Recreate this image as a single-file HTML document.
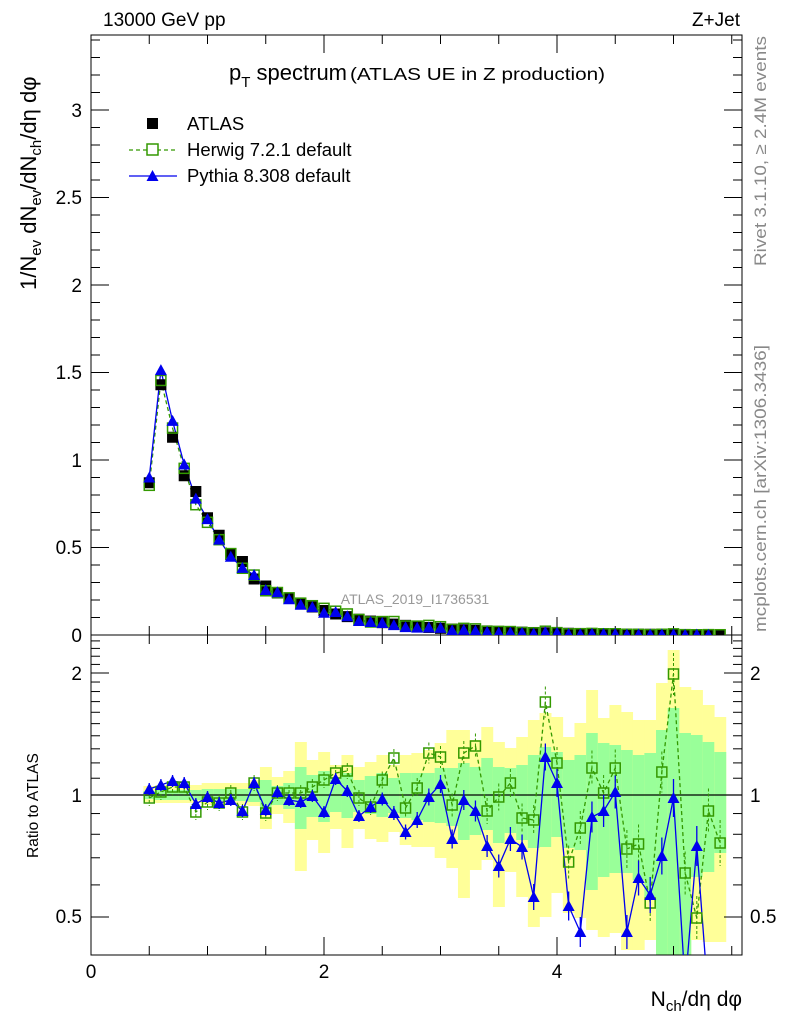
<!DOCTYPE html>
<html><head><meta charset="utf-8"><style>
html,body{margin:0;padding:0;background:#fff;}
svg{display:block;font-family:"Liberation Sans",sans-serif;}
</style></head><body>
<svg id="s" width="786" height="1024" viewBox="0 0 786 1024" xmlns="http://www.w3.org/2000/svg">
<g id="bands"></g>
<g id="ticks" stroke="#000" stroke-width="1"></g>
<rect x="91" y="35" width="651" height="600" fill="none" stroke="#000" stroke-width="1"/>
<rect x="91" y="635" width="651" height="320" fill="none" stroke="#000" stroke-width="1"/>
<line x1="91" y1="795" x2="742" y2="795" stroke="#000" stroke-width="1.3"/>
<g id="data"></g>
<text x="103" y="26" font-size="19">13000 GeV pp</text>
<text x="740" y="26" font-size="19" text-anchor="end">Z+Jet</text>
<text x="229" y="80" font-size="22">p<tspan font-size="15" dy="7">T</tspan><tspan dy="-7"> spectrum</tspan><tspan font-size="17.5" dx="3" textLength="255" lengthAdjust="spacingAndGlyphs">(ATLAS UE in Z production)</tspan></text>
<rect x="147" y="118" width="11" height="11" fill="#000"/>
<text x="187" y="130" font-size="18.5">ATLAS</text>
<line x1="129" y1="150" x2="175" y2="150" stroke="#339900" stroke-width="1.3" stroke-dasharray="4,3"/>
<rect x="147" y="144" width="11" height="11" fill="#fff" stroke="#339900" stroke-width="1.5"/>
<text x="187" y="156" font-size="18.5">Herwig 7.2.1 default</text>
<line x1="129" y1="176" x2="177" y2="176" stroke="#0000ee" stroke-width="1.3"/>
<polygon points="152.5,170 146.5,181 158.5,181" fill="#0000ee"/>
<text x="187" y="182" font-size="18.5">Pythia 8.308 default</text>
<text x="415" y="604" font-size="14" fill="#999" text-anchor="middle">ATLAS_2019_I1736531</text>
<text transform="translate(36,290) rotate(-90)" font-size="22">1/N<tspan font-size="15" dy="5">ev</tspan><tspan dy="-5"> dN</tspan><tspan font-size="15" dy="5">ev</tspan><tspan dy="-5">/dN</tspan><tspan font-size="15" dy="5">ch</tspan><tspan dy="-5">/dη dφ</tspan></text>
<text transform="translate(38,858) rotate(-90)" font-size="15.5">Ratio to ATLAS</text>
<text transform="translate(766,266) rotate(-90)" font-size="17" fill="#888" textLength="230" lengthAdjust="spacingAndGlyphs">Rivet 3.1.10, ≥ 2.4M events</text>
<text transform="translate(766,632) rotate(-90)" font-size="17" fill="#888" textLength="287" lengthAdjust="spacingAndGlyphs">mcplots.cern.ch [arXiv:1306.3436]</text>
<text x="742" y="1006" font-size="21" text-anchor="end">N<tspan font-size="15" dy="5">ch</tspan><tspan dy="-5">/dη dφ</tspan></text>
<g font-size="19">
<text x="91" y="978" text-anchor="middle">0</text>
<text x="324" y="978" text-anchor="middle">2</text>
<text x="557" y="978" text-anchor="middle">4</text>
<text x="82" y="642" text-anchor="end">0</text>
<text x="82" y="554" text-anchor="end">0.5</text>
<text x="82" y="467" text-anchor="end">1</text>
<text x="82" y="379" text-anchor="end">1.5</text>
<text x="82" y="292" text-anchor="end">2</text>
<text x="82" y="204" text-anchor="end">2.5</text>
<text x="82" y="117" text-anchor="end">3</text>
<text x="82" y="802" text-anchor="end">1</text>
<text x="82" y="680" text-anchor="end">2</text>
<text x="82" y="923" text-anchor="end">0.5</text>
<text x="750" y="802">1</text>
<text x="750" y="680">2</text>
<text x="750" y="923">0.5</text>
</g>
</svg>
<script>
var NS="http://www.w3.org/2000/svg";
function el(p,t,a){var e=document.createElementNS(NS,t);for(var k in a)e.setAttribute(k,a[k]);p.appendChild(e);return e;}
var T=document.getElementById('ticks'),B=document.getElementById('bands'),D=document.getElementById('data');
function X(v){return 91+116.5*v;}
for(var i=0;i<=11;i++){var x=X(i*0.5);if(x>742)break;var L=(i%4==0)?18:9;
 el(T,'line',{x1:x,y1:635,x2:x,y2:635-L});el(T,'line',{x1:x,y1:35,x2:x,y2:35+L});
 el(T,'line',{x1:x,y1:955,x2:x,y2:955-L});el(T,'line',{x1:x,y1:635,x2:x,y2:635+L});}
for(var i=0;i<=34;i++){var y=635-i*0.1*175;var L=(i%5==0)?18:9;
 el(T,'line',{x1:91,y1:y,x2:91+L,y2:y});el(T,'line',{x1:742,y1:y,x2:742-L,y2:y});}
function RY(r){return 795-122*Math.log(r)/Math.LN2;}
var rt=[0.5,0.6,0.7,0.8,0.9,1,1.1,1.2,1.3,1.4,1.5,1.6,1.7,1.8,1.9,2,2.1,2.2,2.3,2.4];
rt.forEach(function(r){var y=RY(r);if(y<635||y>955)return;var L=(r==0.5||r==1||r==2)?18:9;
 el(T,'line',{x1:91,y1:y,x2:91+L,y2:y});el(T,'line',{x1:742,y1:y,x2:742-L,y2:y});});
var bd=[[786,802,791,799],[785,803,790,800],[785,803,790,800],[785,803,790,800],[785,803,790,800],
[783,805,789,801],[783,805,789,801],[783,805,789,801],[783,805,789,801],[780,806,788,802],
[767,829,780,812],[777,814,786,805],[771,823,783,809],[742,871,767,829],[760,840,775,817],
[752,853,771,822],[765,829,778,812],[755,848,773,818],[767,829,780,812],[762,839,776,814],
[755,842,773,817],[765,832,778,813],[755,845,773,818],[753,847,773,820],[750,847,773,822],
[743,858,768,823],[730,868,768,826],[730,898,763,840],[740,870,767,835],[727,860,758,830],
[742,907,767,843],[748,872,768,833],[737,897,765,840],[720,927,755,848],[713,917,747,847],
[717,893,752,837],[737,913,760,848],[723,918,755,850],[690,930,733,890],[718,937,743,877],
[705,933,745,873],[712,950,750,873],[720,950,755,880],[720,940,753,897],[683,953,730,957],
[650,955,708,955],[687,955,733,955],[690,940,735,877],[705,942,742,872],[717,942,752,853]];
var hw=[798,792,787,787,812,802,803,793,812,783,813,793,793,793,787,780,773,771,798,807,780,758,808,788,753,757,805,753,746,811,797,783,818,820,702,763,862,828,768,793,768,849,844,903,772,674,873,918,811,843];
var py=[789,785,781,783,804,797,803,800,811,783,810,792,800,802,796,812,779,791,816,807,799,813,832,820,797,784,839,800,811,846,866,839,847,897,757,783,906,932,817,811,792,932,878,895,856,798,985,846,1000,null];
var W=11.65;
function PX(i){return 149.25+W*i;}
bd.forEach(function(b,i){var x=PX(i)-W/2;
 el(B,'rect',{x:x,y:b[0],width:W+0.3,height:Math.min(b[1],955)-b[0],fill:'#ffff99'});
 el(B,'rect',{x:x,y:b[2],width:W+0.3,height:Math.min(b[3],955)-b[2],fill:'#99ff99'});});
var atl=[0.87,1.43,1.13,0.91,0.82,0.67,0.57,0.46,0.42,0.32,0.28,0.24,0.21,0.18,0.16,0.14,0.12,0.105,0.09];
while(atl.length<50){atl.push(atl[atl.length-1]*0.885);}
function MY(v){return 635-175*v;}
function rat(y){return Math.pow(2,(795-y)/122);}
var clip=el(D,'clipPath',{id:'cr'});el(clip,'rect',{x:91,y:635,width:651,height:320});
var clip2=el(D,'clipPath',{id:'cm'});el(clip2,'rect',{x:91,y:35,width:651,height:600});
var gm=el(D,'g',{'clip-path':'url(#cm)'}),gr=el(D,'g',{'clip-path':'url(#cr)'});
function poly(g,pts,col,dash){var a={points:pts.join(' '),fill:'none',stroke:col,'stroke-width':1.3};if(dash)a['stroke-dasharray']='4,3';el(g,'polyline',a);}
var hm=[],pm=[],hr=[],pr=[];
for(var i=0;i<50;i++){var x=PX(i);
 hm.push(x+','+MY(atl[i]*rat(hw[i])));hr.push(x+','+hw[i]);
 if(py[i]!=null){pm.push(x+','+MY(atl[i]*rat(py[i])));pr.push(x+','+py[i]);}}
poly(gm,hm,'#339900',1);poly(gm,pm,'#0000ee',0);
poly(gr,hr,'#339900',1);poly(gr,pr,'#0000ee',0);
for(var i=0;i<50;i++){var x=PX(i);var y=MY(atl[i]);
 el(gm,'rect',{x:x-5.5,y:y-5.5,width:11,height:11,fill:'#000'});
 var yh=MY(atl[i]*rat(hw[i]));el(gm,'rect',{x:x-5,y:yh-5,width:10,height:10,fill:'none',stroke:'#339900','stroke-width':1.5});
 if(py[i]!=null){var yp=MY(atl[i]*rat(py[i]));el(gm,'polygon',{points:(x)+','+(yp-6)+' '+(x-6)+','+(yp+5)+' '+(x+6)+','+(yp+5),fill:'#0000ee'});}
 var e=Math.max(2,(i-15)*0.5);
 el(gr,'line',{x1:x,y1:hw[i]-e-6,x2:x,y2:hw[i]+e+6,stroke:'#339900','stroke-dasharray':'3,2'});
 el(gr,'rect',{x:x-5,y:hw[i]-5,width:10,height:10,fill:'none',stroke:'#339900','stroke-width':1.5});
 if(py[i]!=null){el(gr,'line',{x1:x,y1:py[i]-e-4,x2:x,y2:py[i]+e+4,stroke:'#0000ee','stroke-width':1.3});
  el(gr,'polygon',{points:(x)+','+(py[i]-6)+' '+(x-6)+','+(py[i]+5)+' '+(x+6)+','+(py[i]+5),fill:'#0000ee'});}
}
</script>
</body></html>
